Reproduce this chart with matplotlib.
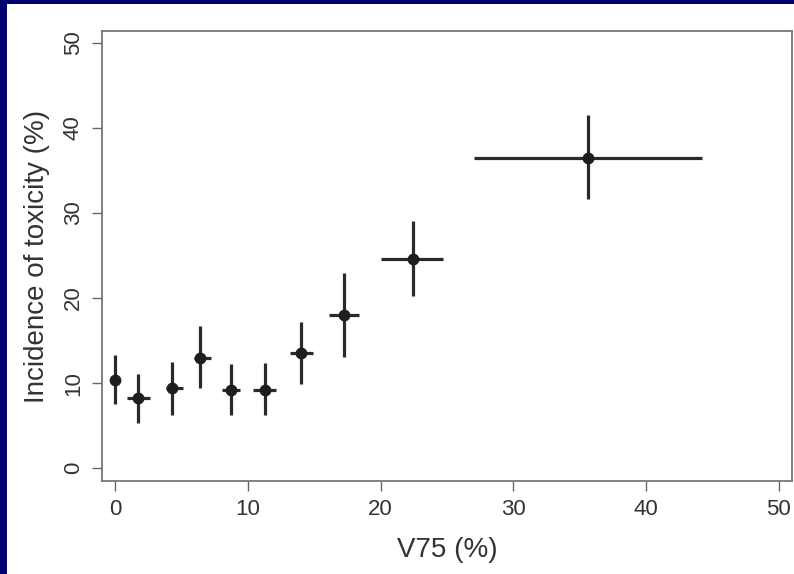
import matplotlib.pyplot as plt
from matplotlib.patches import Rectangle

plt.rcParams['font.family'] = ['Liberation Sans', 'DejaVu Sans']

# V75 bins: centre, lower and upper edge (%)
v75 = [0.0, 1.7, 4.3, 6.4, 8.7, 11.25, 14.0, 17.2, 22.4, 35.6]
v75_lo = [0.0, 0.85, 3.85, 5.95, 8.05, 10.4, 13.15, 16.1, 20.0, 27.05]
v75_hi = [0.0, 2.65, 5.1, 7.2, 9.4, 12.15, 14.9, 18.35, 24.7, 44.2]
# incidence of toxicity with confidence limits (%)
tox = [10.4, 8.2, 9.4, 13.0, 9.2, 9.2, 13.6, 18.0, 24.6, 36.5]
tox_lo = [7.5, 5.3, 6.2, 9.4, 6.2, 6.2, 9.9, 13.1, 20.2, 31.6]
tox_hi = [13.3, 11.1, 12.5, 16.7, 12.3, 12.4, 17.2, 23.0, 29.1, 41.5]

xticks = [0, 10, 20, 30, 40, 50]
yticks = [0, 10, 20, 30, 40, 50]

fig = plt.figure(figsize=(7.94, 5.74), dpi=100)
fig.patch.set_facecolor('#00006e')
# white page inside the navy frame
fig.patches.append(Rectangle((7 / 794, 0), 1, 1 - 4 / 574, transform=fig.transFigure,
                             facecolor='white', edgecolor='none', zorder=-10))

ax = fig.add_axes([102 / 794, 93 / 574, 690 / 794, 450 / 574])
ax.set_facecolor('white')

xerr = [[c - l for c, l in zip(v75, v75_lo)], [h - c for c, h in zip(v75, v75_hi)]]
yerr = [[c - l for c, l in zip(tox, tox_lo)], [h - c for c, h in zip(tox, tox_hi)]]
ax.errorbar(v75, tox, xerr=xerr, yerr=yerr, fmt='o', color='#1e1e1e',
            ecolor='#2a2a2a', elinewidth=2.3, capsize=0, markersize=7.5)

ax.set_xlim(-1, 51)
ax.set_ylim(-1.5, 51.4)
ax.set_xticks(xticks)
ax.set_yticks(yticks)
ax.tick_params(direction='out', length=7, width=1, color='#666666',
               labelsize=16, labelcolor='#333333', pad=6)
for lab in ax.get_yticklabels():
    lab.set_rotation(90)
    lab.set_va('center')
for s in ax.spines.values():
    s.set_color('#777777')
    s.set_linewidth(1.3)

ax.set_xlabel('V75 (%)', fontsize=20, color='#333333', labelpad=12)
ax.set_ylabel('Incidence of toxicity (%)', fontsize=20, color='#333333', labelpad=9)

fig.savefig('out.png', dpi=100, facecolor=fig.get_facecolor())
